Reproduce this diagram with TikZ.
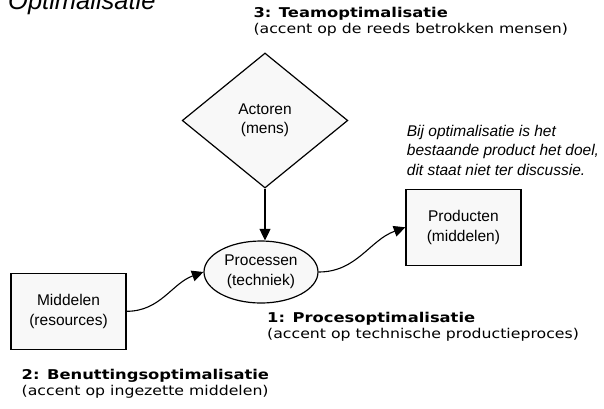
\documentclass[tikz,border=0pt]{standalone}
\usepackage{fontspec}
\setmainfont{Liberation Sans}
\newfontfamily\labfont[FakeStretch=1.165, BoldFeatures={FakeStretch=1.21}]{DejaVu Sans}
\usetikzlibrary{shapes.geometric,arrows.meta}
\definecolor{shapefill}{HTML}{F8F8F8}
\begin{document}
\begin{tikzpicture}[x=1pt,y=-1pt,
  shapebox/.style={draw, line width=1.2pt, fill=shapefill, align=center, inner sep=0pt,
    font=\fontsize{15.5}{19.5}\selectfont},
  lab/.style={anchor=base west, inner sep=0pt, font=\labfont\fontsize{13.5}{16}\selectfont},
  note/.style={anchor=base west, inner sep=0pt, font=\itshape\fontsize{15.5}{19.5}\selectfont},
  flow/.style={line width=1.1pt, -{Triangle[length=11.5pt,width=11pt]}},
]
\useasboundingbox (0,0) rectangle (604,408);

% heading
\node[anchor=base west, inner sep=0pt, font=\itshape\fontsize{25.5}{30}\selectfont] (title) at (8,9) {Optimalisatie};

% the four elements
\node[shapebox, diamond, minimum width=165.6pt, minimum height=135pt] (act) at (265,120.5) {Actoren\\(mens)};
\node[shapebox, ellipse, minimum width=114pt, minimum height=62pt] (proc) at (261,272) {Processen\\(techniek)};
\node[shapebox, rectangle, minimum width=115pt, minimum height=76pt] (prod) at (463.4,227.3) {Producten\\(middelen)};
\node[shapebox, rectangle, minimum width=115pt, minimum height=76pt] (mid) at (68.5,311.3) {Middelen\\(resources)};

% connectors
\draw[flow] (act.south) -- (act.south |- proc.north);
\draw[flow] (mid.east) to[out=0,in=200] (proc.west);
\draw[flow] (proc.east) to[out=0,in=200] (prod.west);

% note on the product
\node[note] (n1) at (406.7,136) {Bij optimalisatie is het};
\node[note] (n2) at (406.7,155.5) {bestaande product het doel,};
\node[note] (n3) at (406.7,175) {dit staat niet ter discussie.};

% optimisation types
\node[lab] (t3a) at (253.3,17.3) {\bfseries 3: Teamoptimalisatie};
\node[lab] (t3b) at (253.3,33) {(accent op de reeds betrokken mensen)};
\node[lab] (t1a) at (267,322) {\bfseries 1: Procesoptimalisatie};
\node[lab] (t1b) at (267,338) {(accent op technische productieproces)};
\node[lab] (t2a) at (21.5,379) {\bfseries 2: Benuttingsoptimalisatie};
\node[lab] (t2b) at (21.5,395) {(accent op ingezette middelen)};
\end{tikzpicture}
\end{document}
